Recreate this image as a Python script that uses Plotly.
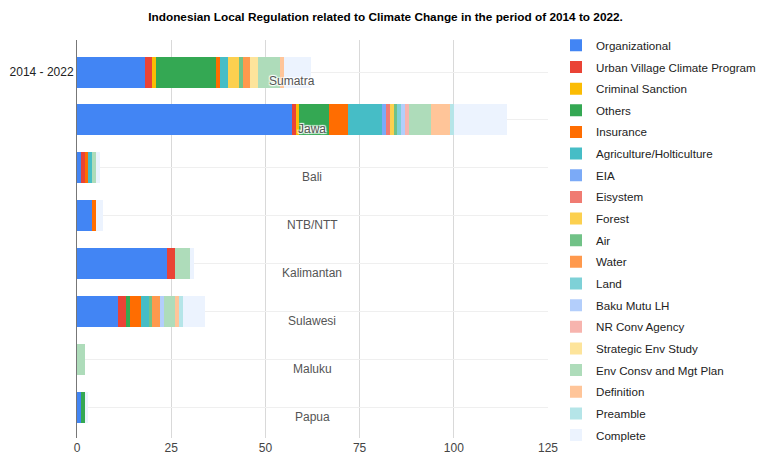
import plotly.graph_objects as go

regions = ["Sumatra", "Jawa", "Bali", "NTB/NTT", "Kalimantan", "Sulawesi", "Maluku", "Papua"]
tick_labels = ["2014 - 2022", "", "", "", "", "", "", ""]

series_names = [
    "Organizational", "Urban Village Climate Program", "Criminal Sanction", "Others",
    "Insurance", "Agriculture/Holticulture", "EIA", "Eisystem", "Forest", "Air",
    "Water", "Land", "Baku Mutu LH", "NR Conv Agency", "Strategic Env Study",
    "Env Consv and Mgt Plan", "Definition", "Preamble", "Complete",
]

# values per series, ordered as regions
organizational = [18, 57, 1, 4, 24, 11, 0, 1]
urban_village  = [2, 1, 1, 0, 2, 2, 0, 0]
criminal       = [1, 1, 0, 0, 0, 0, 0, 0]
others         = [16, 8, 0, 0, 0, 1, 0, 1]
insurance      = [1, 5, 1, 1, 0, 3, 0, 0]
agriculture    = [2, 9, 1, 0, 0, 2, 0, 0]
eia            = [0, 1, 0, 0, 0, 0, 0, 0]
eisystem       = [0, 1, 0, 0, 0, 0, 0, 0]
forest         = [3, 1, 0, 0, 0, 0, 0, 0]
air            = [1, 1, 0, 0, 0, 1, 0, 0]
water          = [2, 0, 0, 0, 0, 2, 0, 0]
land           = [0, 1, 0, 0, 0, 0, 0, 0]
baku_mutu      = [0, 1, 0, 0, 0, 1, 0, 0]
nr_conv        = [0, 1, 0, 0, 0, 0, 0, 0]
strategic      = [2, 0, 0, 0, 0, 0, 0, 0]
env_consv      = [6, 6, 1, 0, 4, 3, 2, 0]
definition     = [1, 5, 0, 0, 0, 1, 0, 0]
preamble       = [0, 1, 0, 0, 0, 1, 0, 0]
complete       = [7, 14, 1, 2, 1, 6, 0, 1]

series_values = [
    organizational, urban_village, criminal, others, insurance, agriculture, eia,
    eisystem, forest, air, water, land, baku_mutu, nr_conv, strategic, env_consv,
    definition, preamble, complete,
]

colors = [
    "#4285F4", "#EA4335", "#FBBC04", "#34A853", "#FF6D01", "#46BDC6", "#7BAAF7",
    "#F07B72", "#FCD04F", "#71C287", "#FF994D", "#7ED1D7", "#B3CEFB", "#F7B4AE",
    "#FDE49B", "#AEDCBA", "#FFC599", "#B5E5E8", "#ECF3FE",
]

label_x = [57, 62.4, 62.4, 62.4, 62.4, 62.4, 62.4, 62.4]

FONT = "Arial, 'Liberation Sans', sans-serif"

fig = go.Figure()
for name, vals, col in zip(series_names, series_values, colors):
    fig.add_trace(go.Bar(
        y=regions, x=vals, name=name, orientation="h",
        marker=dict(color=col, line=dict(width=0)),
        legendgroup=name,
    ))

for r, lx in zip(regions, label_x):
    fig.add_annotation(
        x=lx, y=r, text=r, showarrow=False, yshift=-9,
        font=dict(family=FONT, size=12, color="#555555",
                  shadow="1px 1px 1px white, -1px -1px 1px white, 1px -1px 1px white, -1px 1px 1px white"),
    )

fig.update_layout(
    width=759, height=455,
    barmode="stack", bargap=0.353,
    paper_bgcolor="white", plot_bgcolor="white",
    margin=dict(l=77, r=211, t=40, b=17, autoexpand=False),
    font=dict(family=FONT, size=12, color="#222222"),
    title=dict(
        text="<b>Indonesian Local Regulation related to Climate Change in the period of 2014 to 2022.</b>",
        x=0.508, xanchor="center", y=0.962, yanchor="middle",
        font=dict(family=FONT, size=11.8, color="#000000"),
    ),
    xaxis=dict(
        range=[0, 125], tickvals=[0, 25, 50, 75, 100, 125],
        showgrid=True, gridcolor="#d9d9d9", gridwidth=1,
        zeroline=False, showline=False, ticks="", automargin=False,
        tickfont=dict(size=12, color="#444444"), ticklabelstandoff=1,
    ),
    yaxis=dict(
        type="category", categoryorder="array", categoryarray=regions,
        tickvals=regions, ticktext=tick_labels,
        range=[7.636, -0.668], automargin=False,
        showgrid=True, gridcolor="#efefef", gridwidth=1,
        showline=True, linecolor="#777777", linewidth=1,
        ticks="", tickfont=dict(size=12, color="#222222"),
    ),
    legend=dict(
        x=1.017, xanchor="left", y=1.023, yanchor="top",
        font=dict(family=FONT, size=11.6, color="#222222"),
        tracegroupgap=2.65, bgcolor="rgba(0,0,0,0)",
        traceorder="grouped", maxheight=450,
    ),
    showlegend=True,
)

fig.write_html("out.html")
